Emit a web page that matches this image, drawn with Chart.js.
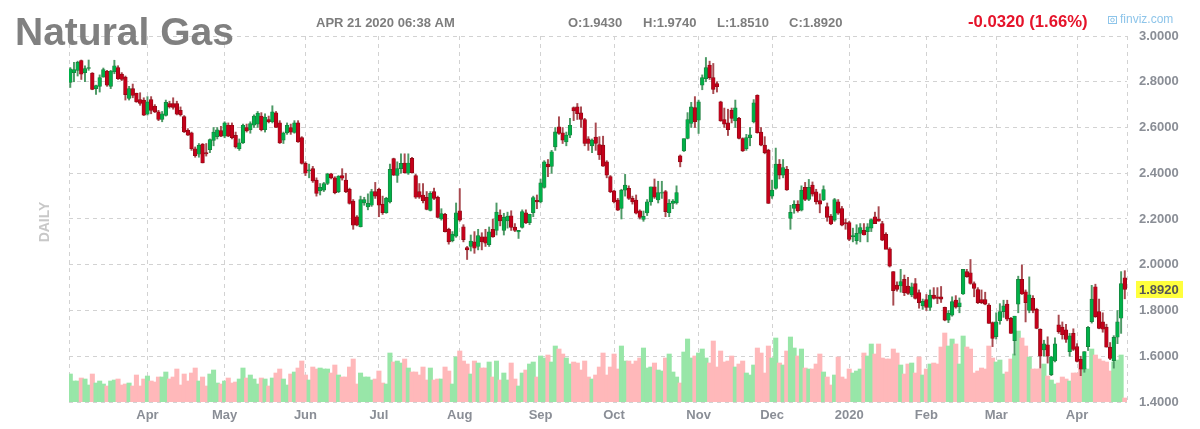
<!DOCTYPE html>
<html>
<head>
<meta charset="utf-8">
<title>Natural Gas</title>
<style>
    html, body { margin: 0; padding: 0; background: #fff; }
    canvas { display: block; }
</style>
</head>
<body>
<canvas id="chart" width="1200" height="429"></canvas>
<script src="https://cdn.jsdelivr.net/npm/chart.js@4"></script>
<script>
const opens = [
    2.797,2.84,2.85,2.893,2.84,2.858,2.838,2.77,2.78,2.82,
    2.846,2.78,2.843,2.862,2.833,2.82,2.727,2.77,2.75,2.722,
    2.72,2.658,2.722,2.693,2.668,2.635,2.653,2.705,2.705,2.705,
    2.675,2.648,2.588,2.577,2.507,2.483,2.527,2.49,2.503,2.543,
    2.56,2.587,2.562,2.61,2.61,2.566,2.507,2.533,2.60,2.59,
    2.61,2.615,2.65,2.59,2.635,2.625,2.664,2.62,2.545,2.576,
    2.60,2.578,2.62,2.556,2.443,2.41,2.42,2.37,2.323,2.326,
    2.355,2.398,2.38,2.32,2.39,2.37,2.33,2.278,2.21,2.166,
    2.27,2.253,2.26,2.32,2.33,2.265,2.228,2.275,2.464,2.39,
    2.42,2.445,2.40,2.465,2.39,2.32,2.305,2.295,2.237,2.32,
    2.295,2.20,2.22,2.155,2.105,2.125,2.236,2.166,2.075,2.08,
    2.10,2.08,2.122,2.122,2.088,2.155,2.15,2.217,2.15,2.192,
    2.214,2.165,2.143,2.163,2.227,2.184,2.228,2.282,2.275,2.338,
    2.44,2.43,2.515,2.603,2.577,2.537,2.566,2.687,2.69,2.664,
    2.635,2.55,2.52,2.558,2.525,2.523,2.45,2.385,2.323,2.283,
    2.246,2.326,2.334,2.29,2.283,2.236,2.198,2.227,2.275,2.341,
    2.283,2.313,2.32,2.228,2.268,2.27,2.476,2.498,2.552,2.618,
    2.687,2.632,2.785,2.814,2.873,2.818,2.792,2.712,2.635,2.62,
    2.675,2.629,2.64,2.552,2.508,2.556,2.625,2.741,2.58,2.523,
    2.501,2.30,2.334,2.44,2.392,2.417,2.203,2.246,2.264,2.239,
    2.338,2.286,2.348,2.319,2.28,2.283,2.254,2.213,2.195,2.275,
    2.246,2.184,2.184,2.123,2.105,2.137,2.15,2.145,2.16,2.21,
    2.20,2.18,2.133,2.07,1.97,1.911,1.907,1.936,1.907,1.868,
    1.918,1.878,1.82,1.848,1.814,1.867,1.86,1.86,1.814,1.758,
    1.78,1.846,1.817,1.872,1.97,1.965,1.918,1.892,1.848,1.848,
    1.824,1.747,1.686,1.755,1.795,1.828,1.766,1.668,1.828,1.936,
    1.882,1.80,1.853,1.805,1.718,1.628,1.65,1.52,1.58,1.737,
    1.727,1.715,1.62,1.70,1.642,1.587,1.543,1.642,1.751,1.904,
    1.795,1.75,1.727,1.64,1.581,1.683,1.766,1.943
];
const highs = [
    2.862,2.885,2.89,2.895,2.87,2.895,2.84,2.785,2.83,2.86,
    2.85,2.85,2.894,2.87,2.84,2.825,2.78,2.79,2.75,2.752,
    2.73,2.735,2.735,2.70,2.675,2.67,2.72,2.715,2.73,2.715,
    2.69,2.652,2.595,2.58,2.515,2.53,2.53,2.53,2.55,2.60,
    2.60,2.605,2.625,2.62,2.62,2.58,2.55,2.615,2.615,2.625,
    2.655,2.67,2.665,2.66,2.65,2.695,2.67,2.63,2.58,2.62,
    2.615,2.63,2.63,2.56,2.45,2.44,2.43,2.38,2.355,2.36,
    2.40,2.40,2.385,2.39,2.42,2.40,2.335,2.285,2.215,2.30,
    2.295,2.31,2.33,2.36,2.335,2.30,2.295,2.44,2.466,2.45,
    2.485,2.485,2.485,2.47,2.395,2.355,2.355,2.32,2.32,2.335,
    2.30,2.245,2.225,2.16,2.145,2.27,2.333,2.175,2.08,2.13,
    2.145,2.155,2.14,2.155,2.165,2.20,2.27,2.24,2.225,2.23,
    2.236,2.18,2.15,2.24,2.24,2.22,2.30,2.305,2.375,2.455,
    2.46,2.50,2.60,2.647,2.60,2.58,2.64,2.69,2.705,2.69,
    2.64,2.56,2.55,2.62,2.56,2.562,2.455,2.39,2.325,2.29,
    2.33,2.395,2.345,2.30,2.305,2.24,2.235,2.285,2.34,2.375,
    2.365,2.365,2.325,2.285,2.285,2.345,2.48,2.55,2.665,2.71,
    2.735,2.72,2.83,2.906,2.89,2.88,2.80,2.715,2.685,2.68,
    2.685,2.72,2.645,2.555,2.57,2.60,2.722,2.743,2.60,2.56,
    2.505,2.37,2.51,2.46,2.46,2.43,2.26,2.28,2.28,2.345,
    2.36,2.373,2.362,2.33,2.31,2.345,2.27,2.22,2.29,2.285,
    2.255,2.20,2.19,2.16,2.175,2.18,2.18,2.18,2.20,2.23,
    2.254,2.19,2.14,2.075,1.97,1.925,1.98,1.955,1.945,1.92,
    1.94,1.89,1.85,1.87,1.89,1.90,1.90,1.905,1.815,1.80,
    1.86,1.865,1.855,1.98,1.98,2.023,1.925,1.90,1.89,1.88,
    1.83,1.75,1.79,1.83,1.845,1.845,1.77,1.775,1.95,1.999,
    1.89,1.947,1.865,1.81,1.72,1.67,1.685,1.60,1.68,1.78,
    1.75,1.74,1.70,1.72,1.655,1.60,1.62,1.73,1.91,1.915,
    1.85,1.79,1.74,1.66,1.69,1.80,1.97,1.974
];
const lows = [
    2.775,2.80,2.825,2.81,2.80,2.85,2.765,2.745,2.755,2.82,
    2.78,2.77,2.835,2.81,2.805,2.72,2.72,2.73,2.71,2.697,
    2.652,2.654,2.66,2.665,2.63,2.625,2.65,2.685,2.68,2.655,
    2.65,2.578,2.565,2.50,2.47,2.47,2.445,2.475,2.49,2.52,
    2.55,2.56,2.555,2.56,2.55,2.51,2.50,2.53,2.58,2.575,
    2.60,2.60,2.585,2.58,2.62,2.62,2.60,2.53,2.53,2.57,
    2.57,2.575,2.535,2.44,2.39,2.38,2.36,2.30,2.305,2.32,
    2.35,2.375,2.31,2.315,2.37,2.315,2.265,2.155,2.17,2.165,
    2.26,2.24,2.255,2.29,2.21,2.22,2.225,2.27,2.39,2.36,
    2.40,2.40,2.395,2.40,2.29,2.29,2.27,2.24,2.235,2.285,
    2.205,2.195,2.143,2.09,2.10,2.12,2.19,2.10,2.023,2.06,
    2.05,2.065,2.065,2.08,2.08,2.12,2.13,2.17,2.13,2.16,
    2.15,2.145,2.115,2.16,2.18,2.175,2.21,2.245,2.27,2.335,
    2.385,2.40,2.50,2.57,2.53,2.52,2.555,2.63,2.635,2.60,
    2.52,2.50,2.49,2.50,2.46,2.43,2.38,2.315,2.27,2.237,
    2.20,2.30,2.285,2.265,2.222,2.20,2.19,2.215,2.26,2.29,
    2.27,2.29,2.21,2.21,2.245,2.265,2.428,2.495,2.55,2.60,
    2.60,2.574,2.765,2.80,2.81,2.748,2.755,2.627,2.60,2.565,
    2.62,2.60,2.55,2.495,2.50,2.52,2.62,2.575,2.52,2.485,
    2.268,2.29,2.33,2.375,2.38,2.325,2.155,2.225,2.23,2.235,
    2.28,2.28,2.30,2.265,2.227,2.28,2.19,2.175,2.19,2.22,
    2.17,2.155,2.105,2.10,2.09,2.10,2.13,2.10,2.145,2.18,
    2.19,2.105,2.07,1.99,1.823,1.885,1.88,1.865,1.87,1.86,
    1.85,1.81,1.805,1.80,1.80,1.85,1.83,1.835,1.755,1.747,
    1.775,1.81,1.79,1.87,1.945,1.915,1.86,1.83,1.83,1.825,
    1.744,1.642,1.675,1.74,1.77,1.755,1.70,1.605,1.79,1.87,
    1.75,1.79,1.79,1.72,1.548,1.60,1.57,1.515,1.575,1.70,
    1.675,1.66,1.60,1.625,1.575,1.515,1.53,1.625,1.745,1.77,
    1.72,1.705,1.64,1.585,1.548,1.655,1.70,1.851
];
const closes = [
    2.857,2.853,2.885,2.833,2.858,2.862,2.766,2.783,2.818,2.853,
    2.785,2.847,2.87,2.813,2.81,2.744,2.77,2.74,2.712,2.705,
    2.654,2.712,2.675,2.668,2.635,2.66,2.71,2.69,2.688,2.658,
    2.655,2.581,2.567,2.507,2.477,2.522,2.445,2.485,2.547,2.58,
    2.59,2.562,2.62,2.562,2.556,2.515,2.533,2.61,2.585,2.617,
    2.65,2.663,2.59,2.645,2.625,2.668,2.60,2.533,2.576,2.61,
    2.58,2.62,2.537,2.443,2.40,2.415,2.367,2.312,2.338,2.355,
    2.397,2.38,2.315,2.387,2.378,2.32,2.268,2.173,2.173,2.285,
    2.285,2.268,2.32,2.30,2.26,2.228,2.29,2.417,2.392,2.42,
    2.443,2.403,2.445,2.403,2.295,2.295,2.28,2.242,2.312,2.29,
    2.207,2.224,2.145,2.10,2.134,2.227,2.195,2.11,2.065,2.103,
    2.072,2.127,2.10,2.094,2.144,2.122,2.23,2.192,2.207,2.213,
    2.163,2.15,2.15,2.232,2.183,2.221,2.294,2.275,2.358,2.45,
    2.428,2.494,2.581,2.574,2.545,2.567,2.61,2.673,2.661,2.635,
    2.53,2.53,2.545,2.53,2.48,2.431,2.392,2.319,2.275,2.239,
    2.326,2.348,2.29,2.275,2.225,2.207,2.212,2.275,2.341,2.295,
    2.315,2.315,2.232,2.268,2.278,2.316,2.45,2.552,2.635,2.69,
    2.625,2.712,2.818,2.862,2.818,2.766,2.778,2.629,2.615,2.591,
    2.64,2.686,2.552,2.498,2.556,2.568,2.708,2.577,2.523,2.49,
    2.268,2.326,2.44,2.392,2.425,2.327,2.229,2.264,2.236,2.326,
    2.286,2.338,2.309,2.275,2.265,2.329,2.207,2.178,2.285,2.225,
    2.173,2.178,2.111,2.128,2.137,2.163,2.13,2.166,2.198,2.18,
    2.19,2.108,2.067,1.994,1.887,1.892,1.926,1.878,1.875,1.904,
    1.853,1.834,1.84,1.814,1.867,1.853,1.853,1.85,1.758,1.788,
    1.839,1.815,1.834,1.98,1.948,1.918,1.897,1.834,1.834,1.828,
    1.744,1.678,1.751,1.795,1.82,1.762,1.70,1.776,1.936,1.872,
    1.834,1.868,1.80,1.722,1.60,1.654,1.60,1.598,1.654,1.708,
    1.694,1.674,1.689,1.63,1.577,1.543,1.62,1.726,1.85,1.773,
    1.722,1.718,1.64,1.59,1.683,1.75,1.918,1.892
];
const volumes = [
    28,21,21,24,23,17,28,19,21,18,
    16,21,22,23,17,18,19,16,27,16,
    23,26,21,20,25,25,30,23,25,33,
    17,28,21,29,34,21,25,16,28,32,
    19,18,21,24,19,20,23,34,24,27,
    23,18,24,23,16,24,29,33,23,17,
    28,30,34,41,27,22,35,33,34,33,
    33,29,37,27,25,25,35,43,18,29,
    25,25,22,23,31,19,18,49,40,41,
    39,43,34,30,30,27,35,22,34,22,
    23,23,35,31,18,45,51,41,38,28,
    41,39,34,34,40,25,41,22,29,22,
    39,23,16,29,32,38,40,25,46,44,
    47,40,56,53,48,44,38,40,39,32,
    41,25,23,27,35,49,27,35,48,33,
    56,41,41,38,41,44,54,34,35,39,
    32,31,44,48,30,25,19,50,63,44,
    46,49,53,44,39,61,35,51,40,41,
    46,35,38,41,29,27,37,54,49,29,
    56,44,64,39,37,51,65,54,46,53,
    34,33,33,38,48,30,25,17,27,45,
    25,23,33,29,31,33,49,46,58,48,
    58,44,43,43,53,49,37,28,38,39,
    29,45,27,33,38,39,38,55,69,56,
    63,58,38,66,55,53,29,31,34,33,
    56,44,40,42,28,30,43,48,71,64,
    56,45,33,33,33,38,26,22,18,19,
    25,23,21,29,29,33,33,33,53,47,
    43,41,40,31,40,42,47,4
];

// session index where each month starts, and its axis label
const monthTicks = [21, 42, 64, 84, 106, 128, 148, 171, 191, 212, 233, 252, 274];
const monthLabels = ["Apr", "May", "Jun", "Jul", "Aug", "Sep", "Oct", "Nov", "Dec", "2020", "Feb", "Mar", "Apr"];
const priceTicks = [1.4, 1.6, 1.8, 2.0, 2.2, 2.4, 2.6, 2.8, 3.0];

const xMin = -0.35;
const xMax = 287.6;
const lastClose = closes[closes.length - 1];

const GREEN_BODY = "#00b048";
const GREEN_EDGE = "#1c7a3c";
const GREEN_WICK = "#4d9a66";
const GREEN_VOL = "#98e6a8";
const RED_BODY = "#c4001a";
const RED_EDGE = "#8a0a14";
const RED_WICK = "#a84a50";
const RED_VOL = "#ffb8ba";

const isUp = (i) => closes[i] >= opens[i];
const pick = (up, down) => (ctx) => (isUp(ctx.dataIndex) ? up : down);

const FONT = "'Liberation Sans', Arial, sans-serif";

const headerPlugin = {
    id: "header",
    afterDraw(chart) {
        const c = chart.ctx;
        c.save();
        c.textBaseline = "middle";
        c.textAlign = "left";

        c.font = `bold 39px ${FONT}`;
        c.fillStyle = "#808080";
        c.fillText("Natural Gas", 15, 34);

        c.font = `bold 13px ${FONT}`;
        c.fillStyle = "#7d7d7d";
        c.fillText("APR 21 2020 06:38 AM", 316, 23);
        c.fillText(`O:${opens[287].toFixed(4)}`, 568, 23);
        c.fillText(`H:${highs[287].toFixed(4)}`, 643, 23);
        c.fillText(`L:${lows[287].toFixed(4)}`, 717, 23);
        c.fillText(`C:${lastClose.toFixed(4)}`, 789, 23);

        c.font = `bold 16.7px ${FONT}`;
        c.fillStyle = "#e5132a";
        c.fillText("-0.0320 (1.66%)", 968, 22);

        c.strokeStyle = "#8ec5ea";
        c.lineWidth = 1;
        c.strokeRect(1108.5, 16.5, 8, 7);
        c.beginPath();
        c.arc(1112.5, 20, 1.8, 0, Math.PI * 2);
        c.stroke();
        c.font = `12px ${FONT}`;
        c.fillStyle = "#8ec5ea";
        c.fillText("finviz.com", 1120, 20);

        // last price tag on the axis
        const y = chart.scales.y.getPixelForValue(lastClose);
        c.fillStyle = "#ffff3c";
        c.fillRect(1136, y - 8.5, 47, 17);
        c.font = `bold 13px ${FONT}`;
        c.fillStyle = "#555555";
        c.fillText(lastClose.toFixed(4), 1139, y + 0.5);

        c.translate(45, 222);
        c.rotate(-Math.PI / 2);
        c.textAlign = "center";
        c.font = `bold 14px ${FONT}`;
        c.fillStyle = "#c8c8c8";
        c.fillText("DAILY", 0, 0);
        c.restore();
    }
};

new Chart(document.getElementById("chart"), {
    type: "bar",
    data: {
        datasets: [
            {
                label: "Body",
                order: 1,
                grouped: false,
                barThickness: 3.7,
                data: opens.map((o, i) => ({ x: i, y: [o, closes[i]] })),
                backgroundColor: pick(GREEN_BODY, RED_BODY),
                borderColor: pick(GREEN_EDGE, RED_EDGE),
                borderWidth: 0.7,
                borderSkipped: false,
            },
            {
                label: "Wick",
                order: 2,
                grouped: false,
                barThickness: 1.3,
                data: lows.map((l, i) => ({ x: i, y: [l, highs[i]] })),
                backgroundColor: pick(GREEN_WICK, RED_WICK),
            },
            {
                label: "Volume",
                order: 3,
                grouped: false,
                yAxisID: "yVol",
                barThickness: 4.4,
                data: volumes.map((v, i) => ({ x: i, y: v })),
                backgroundColor: pick(GREEN_VOL, RED_VOL),
            },
        ],
    },
    options: {
        responsive: false,
        animation: false,
        events: [],
        layout: { padding: { left: 69, top: 36, right: 0, bottom: 0 } },
        plugins: {
            legend: { display: false },
            tooltip: { enabled: false },
        },
        scales: {
            x: {
                type: "linear",
                offset: false,
                min: xMin,
                max: xMax,
                afterBuildTicks: (scale) => {
                    scale.ticks = [xMin, ...monthTicks, xMax].map((value) => ({ value }));
                },
                afterFit: (scale) => { scale.height = 27; },
                grid: { offset: false, color: "#d2d2d2", drawTicks: false, tickLength: 0 },
                border: { display: false, dash: [4, 4] },
                ticks: {
                    autoSkip: false,
                    maxRotation: 0,
                    padding: 6,
                    color: "#8a8e96",
                    font: { family: FONT, size: 13, weight: "bold" },
                    callback: (value) => {
                        const k = monthTicks.indexOf(value);
                        return k >= 0 ? monthLabels[k] : "";
                    },
                },
            },
            y: {
                position: "right",
                min: 1.4,
                max: 3.0,
                afterBuildTicks: (scale) => {
                    scale.ticks = priceTicks.map((value) => ({ value }));
                },
                afterFit: (scale) => { scale.width = 73; },
                grid: { color: "#d2d2d2", drawTicks: false, tickLength: 0 },
                border: { display: false, dash: [4, 4] },
                ticks: {
                    padding: 12,
                    color: "#8a8e96",
                    font: { family: FONT, size: 13, weight: "bold" },
                    callback: (value) => value.toFixed(4),
                },
            },
            yVol: {
                display: false,
                min: 0,
                max: 366,
            },
        },
    },
    plugins: [
        {
            id: "whiteBackground",
            beforeDraw(chart) {
                chart.ctx.fillStyle = "#fff";
                chart.ctx.fillRect(0, 0, chart.width, chart.height);
            },
        },
        headerPlugin,
    ],
});
</script>
</body>
</html>
